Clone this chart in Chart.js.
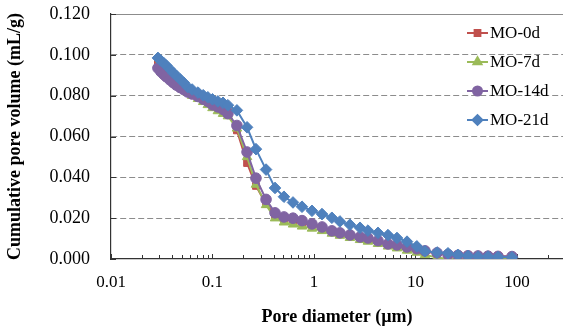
<!DOCTYPE html>
<html>
<head>
<meta charset="utf-8">
<script src="https://cdn.jsdelivr.net/npm/chart.js@4/dist/chart.umd.min.js"></script>
<style>
    html, body { margin: 0; padding: 0; background: #fff; }
    #wrap { width: 563px; height: 329px; position: relative; }
</style>
</head>
<body>
<div id="wrap"><canvas id="poreChart"></canvas></div>
<script>
// Diámetro de poro (µm) común a las cuatro series
const diameters = [0.029, 0.031, 0.033, 0.035, 0.038, 0.041, 0.044, 0.048, 0.052, 0.057,
    0.063, 0.072, 0.081, 0.090, 0.100, 0.113, 0.127, 0.142, 0.174, 0.219,
    0.268, 0.337, 0.413, 0.506, 0.621, 0.762, 0.955, 1.20, 1.50, 1.80,
    2.26, 2.84, 3.40, 4.27, 5.36, 6.57, 8.25, 10.3, 12.4, 16.3,
    20.9, 26.2, 32.9, 41.3, 51.8, 65.0, 89.3];

// Volumen acumulado de poros (mL/g)
const mo0d = [0.0965, 0.0945, 0.0930, 0.0915, 0.0898, 0.0882, 0.0870, 0.0857, 0.0845, 0.0830,
    0.0818, 0.0802, 0.0788, 0.0776, 0.0764, 0.0752, 0.0740, 0.0722, 0.0630, 0.0470,
    0.0358, 0.0270, 0.0215, 0.0195, 0.0185, 0.0175, 0.0165, 0.0150, 0.0135, 0.0125,
    0.0113, 0.0102, 0.0094, 0.0083, 0.0070, 0.0062, 0.0050, 0.0042, 0.0035, 0.0028,
    0.0022, 0.0020, 0.0018, 0.0016, 0.0015, 0.0014, 0.0012];
const mo7d = [0.0950, 0.0930, 0.0915, 0.0900, 0.0885, 0.0870, 0.0857, 0.0843, 0.0830, 0.0815,
    0.0800, 0.0785, 0.0770, 0.0755, 0.0740, 0.0725, 0.0712, 0.0700, 0.0640, 0.0500,
    0.0365, 0.0265, 0.0200, 0.0180, 0.0170, 0.0160, 0.0150, 0.0138, 0.0125, 0.0115,
    0.0104, 0.0094, 0.0086, 0.0075, 0.0062, 0.0053, 0.0042, 0.0032, 0.0020, 0.0008,
    0.0000, 0.0000, 0.0000, 0.0000, 0.0000, 0.0000, 0.0000];
const mo14d = [0.0935, 0.0918, 0.0905, 0.0893, 0.0878, 0.0864, 0.0852, 0.0840, 0.0830, 0.0818,
    0.0808, 0.0796, 0.0783, 0.0772, 0.0755, 0.0745, 0.0733, 0.0712, 0.0654, 0.0524,
    0.0396, 0.0292, 0.0226, 0.0206, 0.0200, 0.0188, 0.0172, 0.0157, 0.0138, 0.0128,
    0.0118, 0.0108, 0.0103, 0.0090, 0.0074, 0.0069, 0.0059, 0.0050, 0.0040, 0.0030,
    0.0022, 0.0018, 0.0016, 0.0015, 0.0014, 0.0013, 0.0012];
const mo21d = [0.0985, 0.0972, 0.0960, 0.0948, 0.0930, 0.0912, 0.0898, 0.0880, 0.0864, 0.0842,
    0.0830, 0.0815, 0.0802, 0.0792, 0.0782, 0.0772, 0.0765, 0.0753, 0.0728, 0.0645,
    0.0538, 0.0438, 0.0348, 0.0305, 0.0277, 0.0256, 0.0236, 0.0220, 0.0202, 0.0184,
    0.0168, 0.0153, 0.0139, 0.0128, 0.0117, 0.0103, 0.0085, 0.0062, 0.0038, 0.0032,
    0.0028, 0.0020, 0.0015, 0.0012, 0.0012, 0.0010, 0.0008];

const seriesNames = ['MO-0d', 'MO-7d', 'MO-14d', 'MO-21d'];
const yTicks = [0, 0.02, 0.04, 0.06, 0.08, 0.10, 0.12];
const xLabels = [0.01, 0.1, 1, 10, 100];

const serif = "'Liberation Serif', 'Times New Roman', serif";

function toPoints(values) {
    return diameters.map((d, i) => ({ x: d, y: values[i] }));
}

function makeSet(label, values, color, style, radius, order) {
    return {
        label: label,
        data: toPoints(values),
        borderColor: color,
        backgroundColor: color,
        borderWidth: 2,
        pointStyle: style,
        pointRadius: radius,
        pointBorderWidth: 1,
        pointBorderColor: color,
        pointBackgroundColor: color,
        tension: 0,
        order: order
    };
}

// marcas de graduación hacia dentro del área del gráfico
const innerTicks = {
    id: 'innerTicks',
    beforeDatasetsDraw(chart) {
        const { ctx, chartArea, scales } = chart;
        ctx.save();
        ctx.strokeStyle = '#333';
        ctx.lineWidth = 1;
        scales.x.ticks.forEach(t => {
            const px = Math.round(scales.x.getPixelForValue(t.value)) + 0.5;
            const len = xLabels.includes(t.value) ? 5 : 4;
            ctx.beginPath();
            ctx.moveTo(px, chartArea.bottom);
            ctx.lineTo(px, chartArea.bottom - len);
            ctx.stroke();
        });
        yTicks.forEach(v => {
            const py = Math.round(scales.y.getPixelForValue(v)) + 0.5;
            ctx.beginPath();
            ctx.moveTo(chartArea.left, py);
            ctx.lineTo(chartArea.left + 5, py);
            ctx.stroke();
        });
        ctx.restore();
    }
};

// leyenda dentro del área del gráfico, arriba a la derecha
const insideLegend = {
    id: 'insideLegend',
    afterDraw(chart) {
        const { ctx } = chart;
        const x0 = 467, rowY = [33, 62, 91, 120];
        ctx.save();
        ctx.font = '17px ' + serif;
        ctx.textBaseline = 'middle';
        chart.data.datasets.forEach((ds, i) => {
            const y = rowY[i];
            ctx.strokeStyle = ds.borderColor;
            ctx.lineWidth = 2;
            ctx.beginPath();
            ctx.moveTo(x0, y);
            ctx.lineTo(x0 + 21, y);
            ctx.stroke();
            ctx.fillStyle = ds.borderColor;
            Chart.helpers.drawPoint(ctx, {
                pointStyle: ds.pointStyle,
                radius: ds.pointRadius * 0.85,
                rotation: 0,
                borderWidth: 1
            }, x0 + 10.5, y);
            ctx.fillStyle = '#000';
            ctx.fillText(ds.label, x0 + 23, y + 1);
        });
        ctx.restore();
    }
};

const ctx = document.getElementById('poreChart').getContext('2d');
const poreChart = new Chart(ctx, {
    type: 'line',
    data: {
        datasets: [
            makeSet(seriesNames[0], mo0d, '#C0504D', 'rect', 4.8, 4),
            makeSet(seriesNames[1], mo7d, '#9BBB59', 'triangle', 5.5, 3),
            makeSet(seriesNames[2], mo14d, '#8064A2', 'circle', 5.3, 2),
            makeSet(seriesNames[3], mo21d, '#4F81BD', 'rectRot', 5.8, 1)
        ]
    },
    options: {
        responsive: true,
        maintainAspectRatio: false,
        animation: false,
        layout: {
            autoPadding: false,
            padding: { top: 14, right: 0, left: 0, bottom: 0 }
        },
        plugins: {
            legend: { display: false },
            tooltip: { enabled: false }
        },
        scales: {
            x: {
                type: 'logarithmic',
                bounds: 'data',
                min: 0.01,
                max: 284,
                afterBuildTicks(scale) {
                    const ticks = [];
                    for (let k = -2; k <= 2; k++) {
                        for (let m = 1; m <= 9; m++) {
                            const v = Number((m * Math.pow(10, k)).toPrecision(3));
                            if (v <= 284) ticks.push({ value: v });
                        }
                    }
                    ticks.push({ value: 200 });
                    scale.ticks = ticks;
                },
                afterFit(scale) {
                    scale.height = 70;
                    scale.paddingLeft = 0;
                    scale.paddingRight = 0;
                },
                grid: { display: false, drawTicks: false },
                border: { display: true, color: '#333', width: 1.2 },
                ticks: {
                    autoSkip: false,
                    maxRotation: 0,
                    padding: 13,
                    color: '#000',
                    font: { family: serif, size: 17 },
                    callback: v => xLabels.includes(v) ? String(v) : ''
                },
                title: {
                    display: true,
                    text: 'Pore diameter (µm)',
                    color: '#000',
                    font: { family: serif, size: 18, weight: 'bold' },
                    padding: { top: 0, bottom: 1 }
                }
            },
            y: {
                min: 0,
                max: 0.12,
                afterBuildTicks(scale) {
                    scale.ticks = yTicks.map(v => ({ value: v }));
                },
                afterFit(scale) {
                    scale.width = 111;
                    scale.paddingTop = 0;
                    scale.paddingBottom = 0;
                },
                grid: {
                    drawTicks: false,
                    color: ctx => ctx.tick && ctx.tick.value === 0 ? 'rgba(0,0,0,0)' : '#8c8c8c',
                    lineWidth: 1
                },
                border: {
                    display: true,
                    color: '#333',
                    width: 1.2,
                    dash: ctx => ctx.tick && ctx.tick.value >= 0.119 ? [] : [6, 3]
                },
                ticks: {
                    padding: 21,
                    color: '#000',
                    font: { family: serif, size: 18 },
                    callback: v => v.toFixed(3)
                },
                title: {
                    display: true,
                    text: 'Cumulative pore volume (mL/g)',
                    color: '#000',
                    font: { family: serif, size: 18, weight: 'bold' },
                    padding: { top: 5, bottom: 0 }
                }
            }
        }
    },
    plugins: [innerTicks, insideLegend]
});
</script>
</body>
</html>
